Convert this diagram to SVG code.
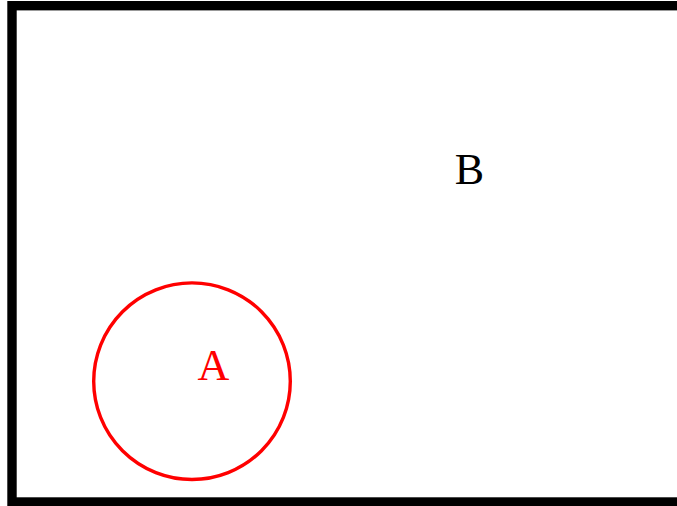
<svg xmlns="http://www.w3.org/2000/svg" width="677" height="506" viewBox="0 0 677 506">
<style>
.lbl{font-family:"Liberation Serif","Times New Roman",serif;font-size:44px;text-anchor:middle}
</style>
<rect width="677" height="506" fill="#fff"/>
<g id="B">
<rect x="12" y="5.7" width="700" height="496.3" fill="none" stroke="#000" stroke-width="9.4"/>
<text class="lbl" x="469.5" y="184" fill="#000">B</text>
</g>
<g id="A">
<circle cx="192" cy="381.2" r="98.3" fill="none" stroke="#f00" stroke-width="3.4"/>
<text class="lbl" x="213.3" y="380" fill="#f00">A</text>
</g>
<g id="connectors"></g>
</svg>
